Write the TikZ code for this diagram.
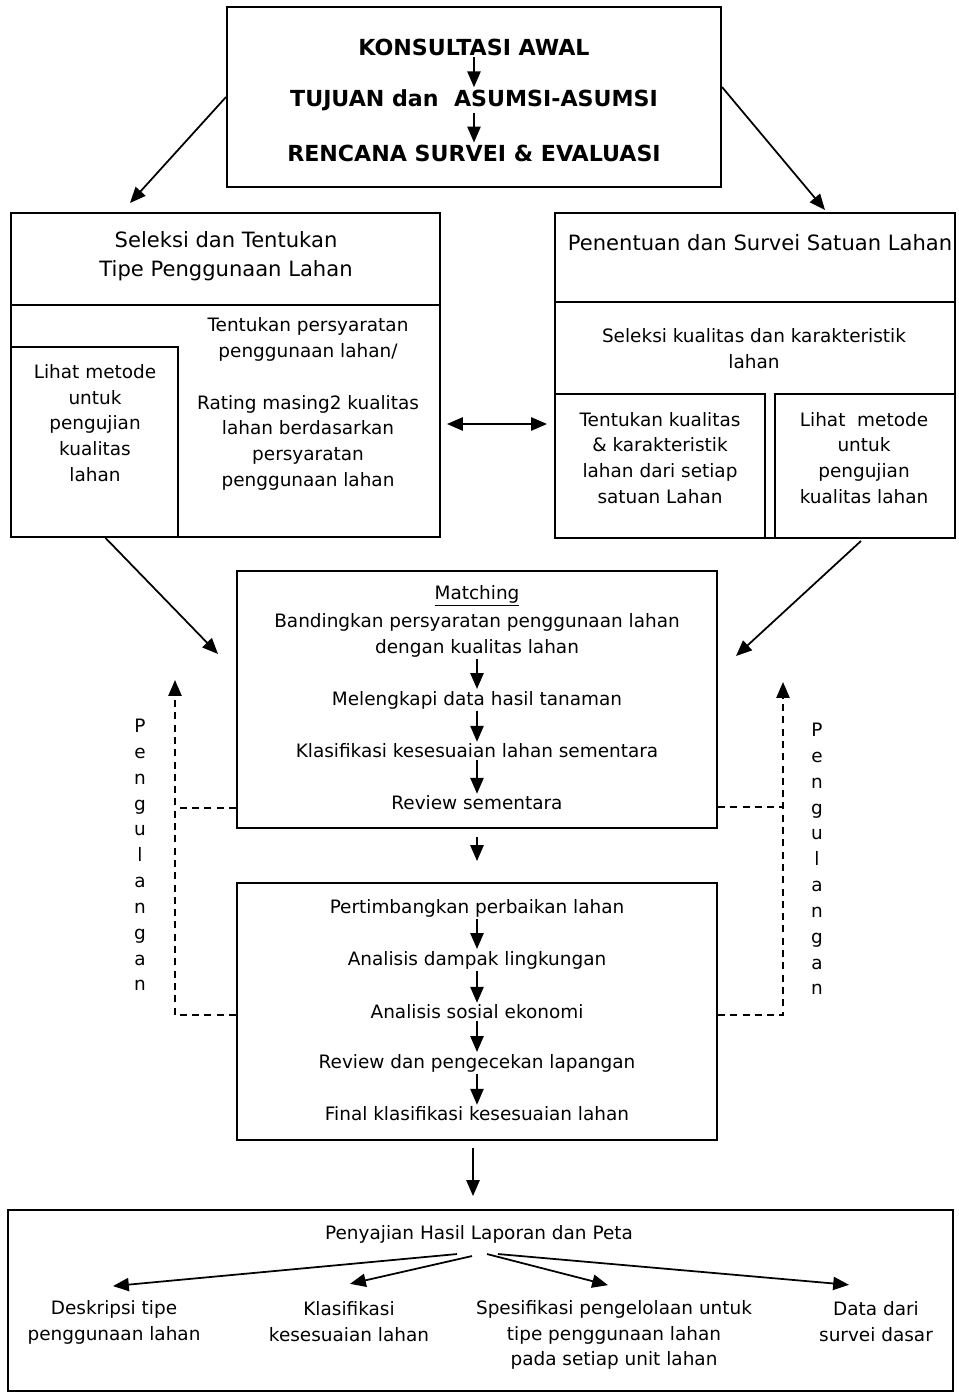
\documentclass[tikz,border=0pt]{standalone}
\usepackage{fontspec}
\setmainfont{DejaVu Sans}
\usetikzlibrary{arrows.meta,fit,calc}
\begin{document}
\begin{tikzpicture}[x=0.02cm,y=-0.02cm,
                      main box/.style={draw,line width=1.1pt,inner sep=0pt},
                      flow text/.style={align=center,inner sep=1pt,
                      font=\fontsize{10.5}{14.7}\selectfont},
                      head text/.style={align=center,inner sep=1pt,
                      font=\fontsize{12}{16.4}\selectfont},
                      top text/.style={inner sep=1pt,font=\fontsize{12.6}{14}\selectfont\bfseries},
                      flow arrow/.style={-{Triangle[length=9pt,width=7.5pt]},line width=1pt},
                      back line/.style={dashed,line width=0.9pt,dash pattern=on 4pt off 3pt}
                     ]
   \useasboundingbox (0,0) rectangle (958,1392);
   % top
   \node[main box,fit={(227,7) (721,187)}] (awal) {};
   \node[top text] (k1) at (474,47) {KONSULTASI AWAL};
   \node[top text] (k2) at (474,100) {TUJUAN dan \ ASUMSI-ASUMSI};
   \node[top text] (k3) at (474,153) {RENCANA SURVEI \& EVALUASI};
   \draw[flow arrow] (k1) -- (k2);
   \draw[flow arrow] (k2) -- (k3);
   % left block
   \node[main box,fit={(11,213) (440,537)}] (sel) {};
   \draw[line width=1.1pt] (11,305) -- (440,305);
   \node[main box,fit={(11,347) (178,537)}] (lihatA) {};
   \node[head text] (selT) at (226,256) {Seleksi dan Tentukan\\Tipe Penggunaan Lahan};
   \node[flow text] (lihatAT) at (95,423) {Lihat metode\\untuk\\pengujian\\kualitas\\lahan};
   \node[flow text] (persyT) at (308,404) {Tentukan persyaratan\\penggunaan lahan/\\[14.7pt]Rating masing2 kualitas\\lahan berdasarkan\\persyaratan\\penggunaan lahan};
   % right block
   \node[main box,fit={(555,213) (955,538)}] (sur) {};
   \draw[line width=1.1pt] (555,302) -- (955,302);
   \node[main box,fit={(555,394) (765,538)}] (tentK) {};
   \node[main box,fit={(775,394) (955,538)}] (lihatB) {};
   \node[head text] (surT) at (760,243) {Penentuan dan Survei Satuan Lahan};
   \node[flow text] (selK) at (754,349) {Seleksi kualitas dan karakteristik\\lahan};
   \node[flow text] (tentKT) at (660,458) {Tentukan kualitas\\\& karakteristik\\lahan dari setiap\\satuan Lahan};
   \node[flow text] (lihatBT) at (864,458) {Lihat \ metode\\untuk\\pengujian\\kualitas lahan};
   \coordinate (selIn) at (130,203);
   \coordinate (surIn) at (825,210);
   \coordinate (lr) at (497,424);
   \draw[flow arrow] (awal.west) -- (selIn);
   \draw[flow arrow] ($(awal.east)+(0,-10)$) -- (surIn);
   \draw[flow arrow,{Triangle[length=9pt,width=7.5pt]}-{Triangle[length=9pt,width=7.5pt]}]
     ($(sel.east |- lr)+(6,0)$) -- ($(sur.west |- lr)+(-7,0)$);
   % matching
   \node[main box,fit={(237,571) (717,828)}] (match) {};
   \node[flow text] (m0) at (477,596) {\underline{Matching}};
   \node[flow text] (m1) at (477,635) {Bandingkan persyaratan penggunaan lahan\\dengan kualitas lahan};
   \node[flow text] (m2) at (477,700) {Melengkapi data hasil tanaman};
   \node[flow text] (m3) at (477,751) {Klasifikasi kesesuaian lahan sementara};
   \node[flow text] (m4) at (477,803) {Review sementara};
   \draw[flow arrow] (m1) -- (m2);
   \draw[flow arrow] (m2) -- (m3);
   \draw[flow arrow] (m3) -- (m4);
   \coordinate (matchL) at (218,654);
   \coordinate (matchR) at (736,656);
   \draw[flow arrow] ($(lihatA.south)+(11,0)$) -- (matchL);
   \draw[flow arrow] ($(lihatB.south)+(-4,2)$) -- (matchR);
   % evaluation
   \node[main box,fit={(237,883) (717,1140)}] (eval) {};
   \node[flow text] (e1) at (477,908) {Pertimbangkan perbaikan lahan};
   \node[flow text] (e2) at (477,960) {Analisis dampak lingkungan};
   \node[flow text] (e3) at (477,1012) {Analisis sosial ekonomi};
   \node[flow text] (e4) at (477,1063) {Review dan pengecekan lapangan};
   \node[flow text] (e5) at (477,1114) {Final klasifikasi kesesuaian lahan};
   \draw[flow arrow] (e1) -- (e2);
   \draw[flow arrow] (e2) -- (e3);
   \draw[flow arrow] (e3) -- (e4);
   \draw[flow arrow] (e4) -- (e5);
   \draw[flow arrow,shorten <=0.16cm,shorten >=0.42cm] (match.south) -- (eval.north);
   % pengulangan
   \coordinate (repL) at (175,680);
   \coordinate (repR) at (783,682);
   \draw[back line,-{Triangle[length=9pt,width=7.5pt]}] ($(eval.west |- e3)+(0,3)$) -| (repL);
   \draw[back line] ($(match.west |- m4)+(0,5)$) -- ($(repL |- m4)+(0,5)$);
   \draw[back line,-{Triangle[length=9pt,width=7.5pt]}] ($(eval.east |- e3)+(0,3)$) -| (repR);
   \draw[back line] ($(match.east |- m4)+(0,4)$) -- ($(repR |- m4)+(0,4)$);
   \node[flow text] (pengL) at (140,855) {P\\e\\n\\g\\u\\l\\a\\n\\g\\a\\n};
   \node[flow text] (pengR) at (817,859) {P\\e\\n\\g\\u\\l\\a\\n\\g\\a\\n};
   % hasil
   \node[main box,fit={(8,1210) (953,1391)}] (pres) {};
   \draw[flow arrow,shorten <=0.14cm,shorten >=0.26cm] ($(eval.south)+(-4,0)$) -- ($(pres.north)+(-7.5,0)$);
   \node[flow text] (p0) at (479,1234) {Penyajian Hasil Laporan dan Peta};
   \node[flow text] (o1) at (114,1322) {Deskripsi tipe\\penggunaan lahan};
   \node[flow text] (o2) at (349,1322) {Klasifikasi\\kesesuaian lahan};
   \node[flow text] (o3) at (614,1335) {Spesifikasi pengelolaan untuk\\tipe penggunaan lahan\\pada setiap unit lahan};
   \node[flow text] (o4) at (876,1322) {Data dari\\survei dasar};
   \draw[flow arrow] ($(p0.south)+(-22,9)$) -- ($(o1.north)+(-1,-12)$);
   \draw[flow arrow] ($(p0.south)+(-7,11)$) -- ($(o2.north)+(1,-16)$);
   \draw[flow arrow] ($(p0.south)+(8,9)$) -- ($(o3.north)+(-6,-13)$);
   \draw[flow arrow] ($(p0.south)+(19,9)$) -- ($(o4.north)+(-27,-15)$);
\end{tikzpicture}
\end{document}
